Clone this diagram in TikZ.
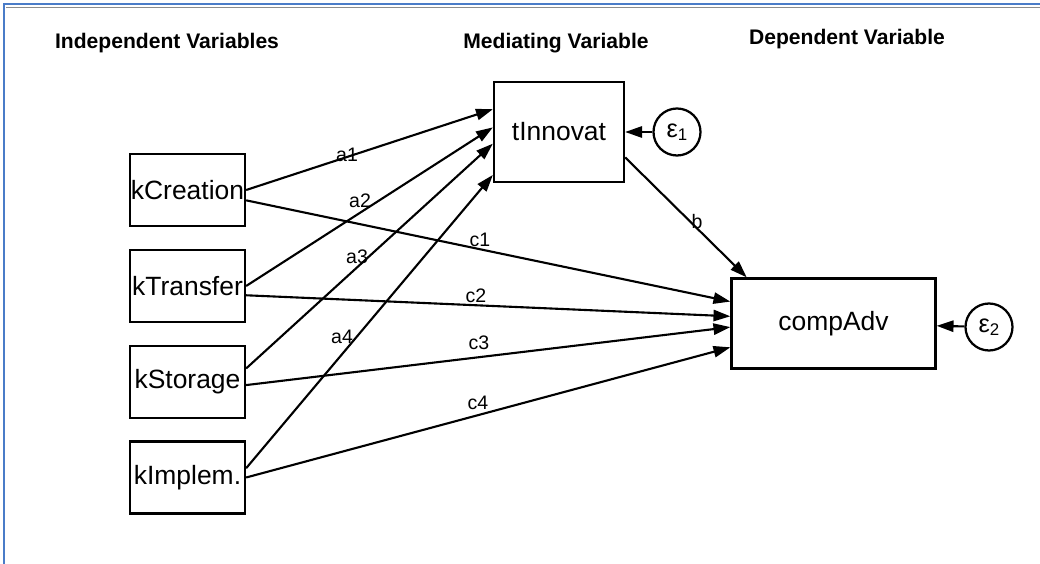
\documentclass[tikz,border=0pt]{standalone}
\usepackage{fontspec}
\setmainfont{Liberation Sans}
\usepackage{xcolor}
\usetikzlibrary{arrows.meta}
\definecolor{frameblue}{HTML}{4A7CC8}
\definecolor{frameshade}{HTML}{8C8C8C}

\begin{document}
\begin{tikzpicture}[x=0.025cm,y=-0.025cm,
  var/.style={draw,line width=1.6pt,inner sep=0pt,font=\fontsize{18.8}{20}\selectfont},
  err/.style={draw,circle,line width=1.6pt,minimum size=1.175cm,inner sep=0pt,font=\fontsize{18}{18}\selectfont},
  link/.style={line width=1.5pt,-{Triangle[length=12pt,width=8pt]}},
  coef/.style={inner sep=0pt,font=\fontsize{13.9}{15}\selectfont},
  head/.style={font=\bfseries\fontsize{15}{17}\selectfont}]
\useasboundingbox (0,0) rectangle (1040,564);
\draw[frameshade,line width=0.6pt] (6,7) -- (1040,7);
\draw[frameblue,line width=2pt] (4,564) -- (4,4) -- (1040,4);

% headings
\node[head] (hind) at (167,43) {Independent Variables};
\node[head] (hmed) at (556,43) {Mediating Variable};
\node[head] (hdep) at (847,39) {Dependent Variable};

% variables
\node[var,minimum width=2.875cm,minimum height=1.8cm] (kcre) at (187.5,190) {kCreation};
\node[var,minimum width=2.875cm,minimum height=1.8cm] (ktra) at (187.5,286) {kTransfer};
\node[var,minimum width=2.875cm,minimum height=1.8cm] (ksto) at (187.5,382) {kStorage};
\node[var,minimum width=2.875cm,minimum height=1.8cm] (kimp) at (187.5,477.5) {kImplem.};
\node[var,minimum width=3.25cm,minimum height=2.5cm] (tinn) at (559,132) {tInnovat};
\node[var,minimum width=5.1cm,minimum height=2.25cm] (comp) at (833.5,323.5) {compAdv};
\node[err] (eps1) at (677,132) {ε\raisebox{-0.25ex}{\fontsize{12}{12}\selectfont 1}};
\node[err] (eps2) at (989,327) {ε\raisebox{-0.25ex}{\fontsize{12}{12}\selectfont 2}};

% paths
\draw[link] (kcre.east) -- (tinn.161);
\draw[link] (ktra.east) -- (tinn.176);
\draw[link] (ksto.13) -- (tinn.190);
\draw[link] (kimp.9) -- (tinn.213);
\draw[link] (kcre.350) -- (comp.168);
\draw[link] (ktra.351) -- (comp.176);
\draw[link] (ksto.357) -- (comp.182);
\draw[link] (kimp.east) -- (comp.193);
\draw[link] (tinn.339) -- (comp.152);
\draw[link] (eps1) -- (tinn);
\draw[link] (eps2) -- (comp);

% coefficients
\node[coef] (la1) at (347,155) {a1};
\node[coef] (la2) at (360,201) {a2};
\node[coef] (la3) at (357,257) {a3};
\node[coef] (la4) at (342,337) {a4};
\node[coef] (lc1) at (480,240) {c1};
\node[coef] (lc2) at (476,296) {c2};
\node[coef] (lc3) at (479,343) {c3};
\node[coef] (lc4) at (478,403) {c4};
\node[coef] (lb) at (697,222) {b};
\end{tikzpicture}
\end{document}
